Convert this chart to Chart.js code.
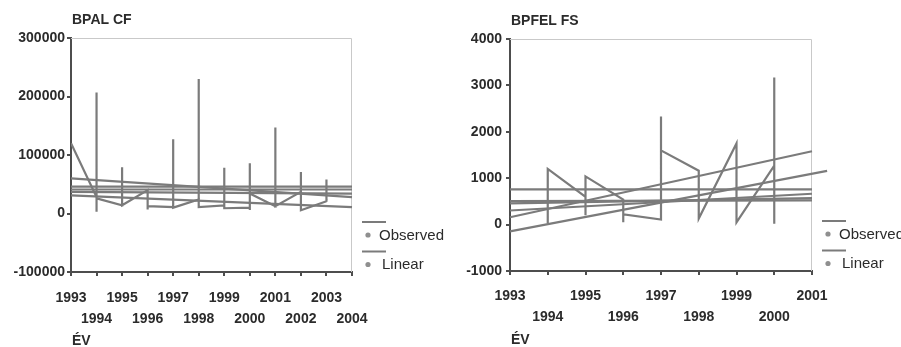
<!DOCTYPE html>
<html>
<head>
<meta charset="utf-8">
<script src="https://cdn.jsdelivr.net/npm/chart.js@4.4.1/dist/chart.umd.min.js"></script>
<style>
  body { margin: 0; background: #fff; }
  #wrap { position: relative; width: 901px; height: 347px; overflow: hidden; }
  canvas { position: absolute; top: 0; }
  #cf { left: 0; }
  #fs { left: 450px; }
</style>
</head>
<body>
<div id="wrap">
  <canvas id="cf" width="450" height="347"></canvas>
  <canvas id="fs" width="451" height="347"></canvas>
</div>
<script>
// ---- BPAL CF (left panel) ----
const cfYearRange = [1993, 2004];
const cfYTicks = [-100000, 300000, 100000]; // min, max, step
const cfObsYears = [1993, 1994, 1994, 1994, 1994, 1995, 1995, 1995, 1996, 1996, 1996,
  1997, 1997, 1997, 1998, 1998, 1998, 1999, 1999, 1999, 2000, 2000, 2000, 2000,
  2001, 2001, 2001, 2002, 2002, 2002, 2003, 2003, 2003];
const cfObsValues = [120000, 28000, 207000, 3000, 26000, 14000, 79000, 14000, 40000, 7000, 12500,
  11000, 127000, 10000, 24000, 230000, 11000, 14000, 78000, 9000, 10000, 86000, 6000, 34000,
  12500, 147000, 12500, 37000, 71000, 5700, 21000, 58000, 20000];
// linear fits: value at start year and at end year
const cfTrendStart = [60000, 46000, 41000, 37000, 31000];
const cfTrendEnd = [28000, 46000, 41000, 34000, 11000];
const cfTrendEndYear = [2004, 2004, 2004, 2004, 2004];

// ---- BPFEL FS (right panel) ----
const fsYearRange = [1993, 2001];
const fsYTicks = [-1000, 4000, 1000];
const fsObsYears = [1994, 1994, 1995, 1995, 1995, 1996, 1996, 1996, 1997, 1997, 1997,
  1998, 1998, 1999, 1999, 2000, 2000, 2000];
const fsObsValues = [30, 1200, 600, 200, 1040, 540, 50, 220, 110, 2330, 1600,
  1160, 130, 1750, 50, 1270, 3170, 20];
const fsTrendStart = [761, 507, 457, 304, 159, -145];
const fsTrendEnd = [761, 520, 570, 665, 1580, 1159];
const fsTrendEndYear = [2001, 2001, 2001, 2001, 2001, 2001.4];

const legendLabels = ['Observed', 'Linear'];

const lineColor = '#7b7b7b';
const axisColor = '#4d4d4d';
const textColor = '#2b2b2b';
const fontFamily = "'Liberation Sans', Arial, sans-serif";

function buildDatasets(obsYears, obsValues, startYear, tStart, tEnd, tEndYear) {
    const sets = [];
    tStart.forEach((v, i) => {
        sets.push({
            data: [{ x: startYear, y: v }, { x: tEndYear[i], y: tEnd[i] }],
            clip: false
        });
    });
    sets.push({ data: obsYears.map((x, i) => ({ x: x, y: obsValues[i] })) });
    return sets.map((s) => Object.assign({
        borderColor: lineColor,
        backgroundColor: lineColor,
        borderWidth: 2.2,
        pointRadius: 0,
        tension: 0,
        fill: false
    }, s));
}

// title, light frame, axis name and the little legend
const decor = {
    id: 'decor',
    beforeDatasetsDraw(chart) {
        const a = chart.chartArea;
        const ctx = chart.ctx;
        ctx.save();
        ctx.strokeStyle = '#c9c9c9';
        ctx.lineWidth = 1;
        ctx.beginPath();
        ctx.moveTo(a.left, a.top + 0.5);
        ctx.lineTo(a.right - 0.5, a.top + 0.5);
        ctx.lineTo(a.right - 0.5, a.bottom);
        ctx.stroke();
        ctx.restore();
    },
    afterDraw(chart, args, opts) {
        const a = chart.chartArea;
        const ctx = chart.ctx;
        ctx.save();
        ctx.fillStyle = textColor;
        ctx.textBaseline = 'middle';
        ctx.textAlign = 'left';
        ctx.font = 'bold 14px ' + fontFamily;
        ctx.fillText(opts.title, a.left + 1, a.top - 18);
        ctx.fillText('ÉV', a.left + 1, a.bottom + 69);

        ctx.font = '15px ' + fontFamily;
        legendLabels.forEach((label, i) => {
            const y0 = a.bottom - 50 + i * 29.5;
            ctx.strokeStyle = lineColor;
            ctx.lineWidth = 2;
            ctx.beginPath();
            ctx.moveTo(a.right + 10, y0);
            ctx.lineTo(a.right + 34, y0);
            ctx.stroke();
            ctx.fillStyle = '#8f8f8f';
            ctx.beginPath();
            ctx.arc(a.right + 16, y0 + 13, 2.6, 0, Math.PI * 2);
            ctx.fill();
            ctx.fillStyle = textColor;
            ctx.fillText(label, a.right + 27 + i * 3, y0 + 13.5);
        });
        ctx.restore();
    }
};

function makeChart(id, cfg) {
    new Chart(document.getElementById(id), {
        type: 'line',
        data: { datasets: cfg.datasets },
        plugins: [decor],
        options: {
            responsive: false,
            animation: false,
            events: [],
            layout: { padding: { top: cfg.top, right: cfg.right, left: 0, bottom: 0 } },
            plugins: {
                legend: { display: false },
                tooltip: { enabled: false },
                decor: { title: cfg.title }
            },
            scales: {
                x: {
                    type: 'linear',
                    min: cfg.years[0],
                    max: cfg.years[1],
                    afterFit: (s) => { s.height = cfg.xHeight; },
                    border: { display: true, color: axisColor, width: 2 },
                    grid: { display: true, drawOnChartArea: false, drawTicks: true, tickLength: 4, color: axisColor, lineWidth: 2 },
                    ticks: {
                        stepSize: 1,
                        autoSkip: false,
                        maxRotation: 0,
                        minRotation: 0,
                        padding: cfg.xPad,
                        color: textColor,
                        font: { family: fontFamily, size: 14, weight: 'bold', lineHeight: 1.5 },
                        callback: (v) => (v % 2 === 1 ? [String(v), ''] : ['', String(v)])
                    }
                },
                y: {
                    min: cfg.yTicks[0],
                    max: cfg.yTicks[1],
                    afterFit: (s) => { s.width = cfg.yWidth; },
                    border: { display: true, color: axisColor, width: 2 },
                    grid: { display: true, drawOnChartArea: false, drawTicks: true, tickLength: 4, color: axisColor, lineWidth: 2 },
                    ticks: {
                        stepSize: cfg.yTicks[2],
                        padding: cfg.yPad,
                        color: textColor,
                        font: { family: fontFamily, size: 14, weight: 'bold' },
                        callback: (v) => String(v)
                    }
                }
            }
        }
    });
}

makeChart('cf', {
    title: 'BPAL CF',
    years: cfYearRange,
    yTicks: cfYTicks,
    datasets: buildDatasets(cfObsYears, cfObsValues, cfYearRange[0], cfTrendStart, cfTrendEnd, cfTrendEndYear),
    top: 38, right: 98, yWidth: 71, xHeight: 75, xPad: 12, yPad: 2
});

makeChart('fs', {
    title: 'BPFEL FS',
    years: fsYearRange,
    yTicks: fsYTicks,
    datasets: buildDatasets(fsObsYears, fsObsValues, fsYearRange[0], fsTrendStart, fsTrendEnd, fsTrendEndYear),
    top: 39, right: 89, yWidth: 60, xHeight: 76, xPad: 11, yPad: 4
});
</script>
</body>
</html>
